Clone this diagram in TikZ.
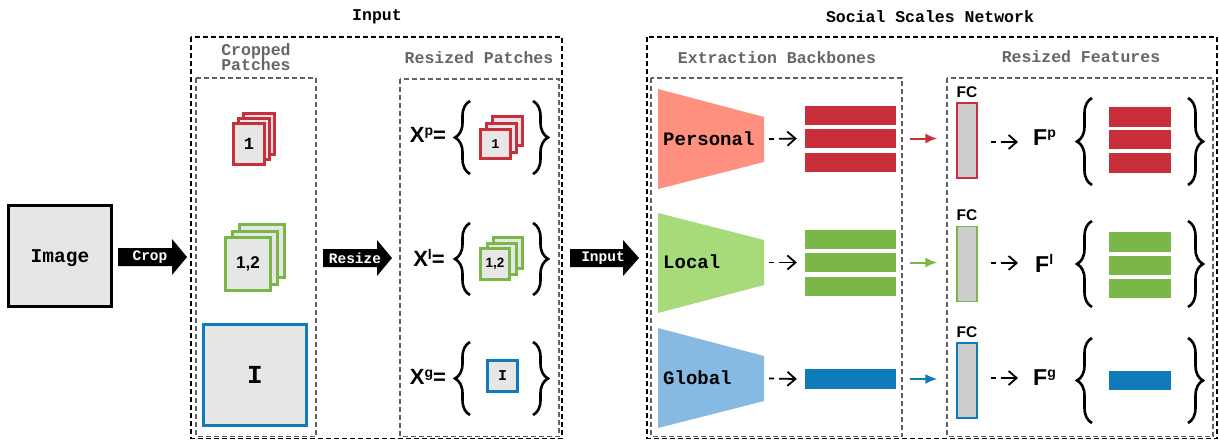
\documentclass[tikz,border=0pt]{standalone}
\usepackage{fontspec}
\setmainfont{Liberation Sans}
\setmonofont{Liberation Mono}
\usetikzlibrary{arrows.meta,decorations.pathreplacing,calc}

\definecolor{pred}{HTML}{C92E3B}
\definecolor{pgreen}{HTML}{7AB648}
\definecolor{pblue}{HTML}{0F7BBA}
\definecolor{tred}{HTML}{FF907F}
\definecolor{tgreen}{HTML}{A7DA78}
\definecolor{tblue}{HTML}{86BAE3}
\definecolor{patchfill}{HTML}{E6E6E6}
\definecolor{fcfill}{HTML}{CCCCCC}
\definecolor{titlegray}{HTML}{666666}
\definecolor{boxgray}{HTML}{606060}

\newcommand\setfs[1]{\fontsize{#1}{#1}\selectfont}

% black block arrow: start x, tip x, head start x, centre y
\newcommand\blockarrow[4]{%
  \fill[black] (#1,#4-9) -- (#3,#4-9) -- (#3,#4-18) -- (#2,#4) -- (#3,#4+18) -- (#3,#4+9) -- (#1,#4+9) -- cycle;}

\begin{document}
\begin{tikzpicture}[x=1pt,y=-1pt,
  txt/.style={inner sep=0pt},
  mono/.style={txt,font=\ttfamily\bfseries\setfs{#1}},
  mono/.default=16.5,
  title/.style={mono=16.5,text=black},
  subtitle/.style={mono=16.5,text=titlegray,align=center},
  outerbox/.style={draw=black,line width=1.3pt,dash pattern=on 5pt off 3pt},
  innerbox/.style={draw=boxgray,line width=1.1pt,dash pattern=on 5pt off 3pt},
  patch/.style={fill=patchfill,line width=3pt,inner sep=0pt},
  bar/.style={inner sep=0pt,minimum width=#1,minimum height=19pt},
  fcbox/.style={fill=fcfill,line width=1.4pt,inner sep=0pt,minimum width=20pt,minimum height=75pt},
  sans/.style={txt,font=\bfseries\setfs{#1}},
  dasharrow/.style={line width=1.8pt,dash pattern=on 5pt off 5pt on 40pt off 1pt,
    -{Straight Barb[length=8pt,width=14pt,line width=1.8pt]}},
  colarrow/.style={line width=2pt,-{Latex[length=12pt,width=10pt]}},
  bracel/.style={decorate,decoration={brace,amplitude=15pt,aspect=0.5},line width=2.6pt},
  blocklabel/.style={mono=14.5,text=white}
]
\useasboundingbox (0,0) rectangle (1219,440);
\fill[white] (0,0) rectangle (1219,440);

% ---- group frames and titles
\draw[outerbox] (191,37) rectangle (562,438.5);
\draw[outerbox] (647,37) rectangle (1217,438.5);
\node[title] (tin) at (377,17) {Input};
\node[title] (tssn) at (930,17) {Social Scales Network};

\draw[innerbox] (196,78) rectangle (316,436.5);
\draw[innerbox] (400,79) rectangle (559,436.5);
\draw[innerbox] (651,78) rectangle (902,436.5);
\draw[innerbox] (947,78) rectangle (1213,436.5);
\node[subtitle] (tcp) at (256,57) {Cropped\\[-1pt]Patches};
\node[subtitle] (trp) at (479,58) {Resized Patches};
\node[subtitle] (teb) at (777,58) {Extraction Backbones};
\node[subtitle] (trf) at (1081,57) {Resized Features};

% ---- input image
\node[draw=black,fill=patchfill,line width=3pt,minimum width=103pt,minimum height=101pt] (img) at (60,256) {};
\node[mono=19.5] (imgtxt) at (60,258) {Image};

% ---- block arrows
\blockarrow{118}{187}{172}{257}
\node[blocklabel] (crop) at (150,257) {Crop};
\blockarrow{323}{392}{377}{258}
\node[blocklabel] (resize) at (355,258) {Resize};
\blockarrow{570}{639}{623}{258}
\node[blocklabel] (inp) at (603,258) {Input};

% ---- cropped patches
\foreach \k in {2,1}
  \node[patch,draw=pred,minimum width=31pt,minimum height=41pt] at (249+5*\k,144-5*\k) {};
\node[patch,draw=pred,minimum width=31pt,minimum height=41pt,font=\ttfamily\bfseries\setfs{17}] (cpp) at (249,144) {1};
\foreach \k in {2,1}
  \node[patch,draw=pgreen,minimum width=45pt,minimum height=53pt] at (248+7*\k,264-6.5*\k) {};
\node[patch,draw=pgreen,minimum width=45pt,minimum height=53pt,font=\bfseries\setfs{17}] (cpl) at (248,264) {1,2};
\node[patch,draw=pblue,line width=3.2pt,minimum width=103pt,minimum height=101pt,font=\ttfamily\bfseries\setfs{26}] (cpg) at (255,375) {I};

% ---- resized patches
\node[sans=22] (xp) at (428,135) {X\raisebox{7.5pt}{\setfs{14}p}=};
\node[sans=22] (xl) at (429,258) {X\raisebox{7.5pt}{\setfs{14}l}=};
\node[sans=22] (xg) at (428,377) {X\raisebox{7.5pt}{\setfs{14}g}=};

\draw[bracel] (470,174) -- (470,101);
\draw[bracel] (533,101) -- (533,174);
\draw[bracel] (470,295) -- (470,223);
\draw[bracel] (533,223) -- (533,295);
\draw[bracel] (470,415) -- (470,342);
\draw[bracel] (533,342) -- (533,415);

\foreach \k in {2,1}
  \node[patch,draw=pred,minimum width=30pt,minimum height=29pt] at (495.5+6*\k,144-6.5*\k) {};
\node[patch,draw=pred,minimum width=30pt,minimum height=29pt,font=\ttfamily\bfseries\setfs{13.5}] (rpp) at (495.5,144) {1};
\foreach \k in {2,1}
  \node[patch,draw=pgreen,minimum width=29pt,minimum height=31pt] at (495+6.5*\k,264-5.5*\k) {};
\node[patch,draw=pgreen,minimum width=29pt,minimum height=31pt,font=\bfseries\setfs{13.5}] (rpl) at (495,264) {1,2};
\node[patch,draw=pblue,minimum width=30pt,minimum height=31pt,font=\ttfamily\bfseries\setfs{15}] (rpg) at (502.5,376) {I};

% ---- extraction backbones
\fill[tred] (658,89) -- (764,117) -- (764,162) -- (658,189) -- cycle;
\fill[tgreen] (658,213) -- (764,240) -- (764,285) -- (658,313) -- cycle;
\fill[tblue] (658,328) -- (764,356) -- (764,401) -- (658,428) -- cycle;
\coordinate (bp) at (764,139);
\coordinate (bl) at (764,262.5);
\coordinate (bg) at (764,378.5);
\node[mono=19,anchor=west] (np) at (663,139) {Personal};
\node[mono=19,anchor=west] (nl) at (663,262) {Local};
\node[mono=19,anchor=west] (ng) at (663,378) {Global};

\node[bar=91pt,fill=pred] (ep1) at (850.5,115.5) {};
\node[bar=91pt,fill=pred] (ep2) at (850.5,138.5) {};
\node[bar=91pt,fill=pred] (ep3) at (850.5,162) {};
\node[bar=91pt,fill=pgreen] (el1) at (850.5,239) {};
\node[bar=91pt,fill=pgreen] (el2) at (850.5,262.5) {};
\node[bar=91pt,fill=pgreen] (el3) at (850.5,286) {};
\node[bar=91pt,fill=pblue,minimum height=20pt] (eg1) at (850.5,379) {};

\draw[dasharrow] ([xshift=5pt]bp) -- ([xshift=-8pt]ep2.west);
\draw[dasharrow] ([xshift=5pt]bl) -- ([xshift=-8pt]el2.west);
\draw[dasharrow] ([xshift=5pt]bg) -- ([xshift=-8pt]eg1.west);

% ---- resized features
\node[fcbox,draw=pred] (fcp) at (967,140.5) {};
\node[fcbox,draw=pgreen] (fcl) at (967,264) {};
\node[fcbox,draw=pblue] (fcg) at (967,380.5) {};
\node[sans=15.5] at (967,92) {FC};
\node[sans=15.5] at (967,215.5) {FC};
\node[sans=15.5] at (967,332) {FC};

\draw[colarrow,pred] ([xshift=14pt]ep2.east) -- ([xshift=-19pt]fcp.west |- ep2.east);
\draw[colarrow,pgreen] ([xshift=14pt]el2.east) -- ([xshift=-19pt]fcl.west |- el2.east);
\draw[colarrow,pblue] ([xshift=14pt]eg1.east) -- ([xshift=-19pt]fcg.west |- eg1.east);

\node[sans=23,anchor=west] (fp) at (1033,138) {F\raisebox{8pt}{\setfs{14}p}};
\node[sans=23,anchor=west] (fl) at (1035,263) {F\raisebox{8pt}{\setfs{14}l}};
\node[sans=23,anchor=west] (fg) at (1033,378) {F\raisebox{8pt}{\setfs{14}g}};

\draw[dasharrow] ([xshift=13pt]fcp.east |- 0,142) -- ([xshift=-15pt]fp.west |- 0,142);
\draw[dasharrow] ([xshift=13pt]fcl.east |- 0,263) -- ([xshift=-17pt]fl.west |- 0,263);
\draw[dasharrow] ([xshift=13pt]fcg.east |- 0,378) -- ([xshift=-15pt]fg.west |- 0,378);

\draw[bracel] (1092,185) -- (1092,98);
\draw[bracel] (1188,98) -- (1188,185);
\draw[bracel] (1092,307) -- (1092,221);
\draw[bracel] (1188,221) -- (1188,307);
\draw[bracel] (1092,423) -- (1092,338);
\draw[bracel] (1188,338) -- (1188,423);

\node[bar=62pt,fill=pred,minimum height=20pt] (rp1) at (1140,117) {};
\node[bar=62pt,fill=pred] (rp2) at (1140,139.5) {};
\node[bar=62pt,fill=pred,minimum height=20pt] (rp3) at (1140,163) {};
\node[bar=62pt,fill=pgreen,minimum height=20pt] (rl1) at (1140,242) {};
\node[bar=62pt,fill=pgreen] (rl2) at (1140,265.5) {};
\node[bar=62pt,fill=pgreen] (rl3) at (1140,288.5) {};
\node[bar=62pt,fill=pblue] (rg1) at (1140,380.5) {};
\end{tikzpicture}
\end{document}
